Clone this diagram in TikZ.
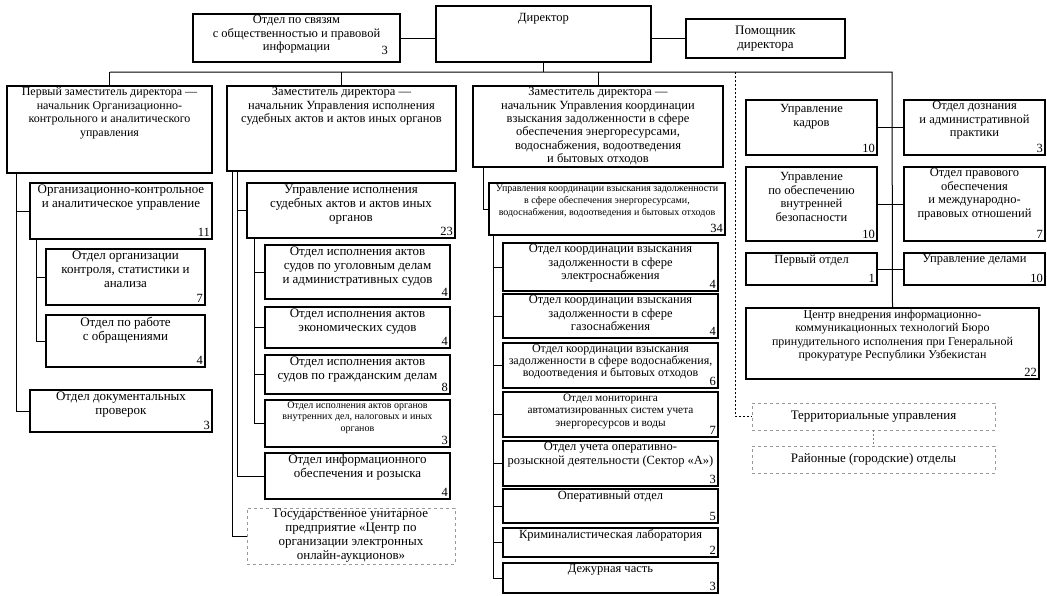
\documentclass[tikz,border=0pt]{standalone}
\usepackage{fontspec}
\setmainfont{Liberation Serif}
\newcommand{\boxfont}{\fontsize{12.5}{13.5}\selectfont}
\newcommand{\bigboxfont}{\fontsize{13}{14}\selectfont}
\newcommand{\deputyfont}{\fontsize{12.5}{13.3}\selectfont}
\newcommand{\smallboxfont}{\fontsize{10}{11.5}\selectfont}
\tikzset{
  unit/.style={draw, line width=1.1pt, anchor=north west, inner sep=0pt, outer sep=0pt},
  extunit/.style={draw=gray!80, dashed, line width=0.9pt, anchor=north west, inner sep=1pt, outer sep=0pt, align=center},
  ttltxt/.style={anchor=north, align=center, inner sep=1.5pt},
  cnttxt/.style={anchor=south east, inner sep=2pt},
  ttl/.style={label={[ttltxt]north:{#1}}},
  ttlf/.style 2 args={label={[ttltxt, font=#1]north:{#2}}},
  cnt/.style={label={[cnttxt]south east:#1}},
  link/.style={line width=1pt},
  dotlink/.style={line width=0.9pt, dash pattern=on 2pt off 2pt}
}
\begin{document}
\begin{tikzpicture}[x=1pt, y=-1pt, every node/.style={font=\boxfont}]
  \useasboundingbox (0,0) rectangle (1047,595);

  % Top level
  \node[unit, minimum width=207, minimum height=48, ttlf={\deputyfont}{Отдел по связям\\с общественностью и правовой\\информации}, label={[cnttxt, xshift=-10pt, yshift=5pt]south east:3}] (otdsv) at (193,14) {};
  \node[unit, minimum width=215, minimum height=56, label={[ttltxt, font=\deputyfont, yshift=-6pt]north:Директор}] (dir) at (436,6) {};
  \node[unit, minimum width=159, minimum height=39, align=center, font=\bigboxfont] (pom) at (686,19) {Помощник\\директора};
  \draw[link] (otdsv.east) -- (otdsv.east -| dir.west);
  \draw[link] (pom.west) -- (pom.west -| dir.east);

  % Bus under the director
  \coordinate (busL) at (110,72);
  \coordinate (busR) at (892,72);
  \coordinate (dotT) at (735,72);
  \draw[link] (dir.south) -- (dir.south |- busL);

  % Deputies
  \node[unit, minimum width=205, minimum height=87, ttlf={\fontsize{12}{13.5}\selectfont}{Первый заместитель директора —\\начальник Организационно-\\контрольного и аналитического\\управления}] (zam1) at (7,86) {};
  \node[unit, minimum width=229, minimum height=85, ttlf={\deputyfont}{Заместитель директора —\\начальник Управления исполнения\\судебных актов и актов иных органов}] (zam2) at (227,86) {};
  \node[unit, minimum width=250, minimum height=81, ttlf={\deputyfont}{Заместитель директора —\\начальник Управления координации\\взыскания задолженности в сфере\\обеспечения энергоресурсами,\\водоснабжения, водоотведения\\и бытовых отходов}] (zam3) at (473,86) {};
  \foreach \n in {zam1,zam2,zam3}
    \draw[link] (\n.north) -- (\n.north |- busL);

  % First deputy branch
  \node[unit, minimum width=182, minimum height=56, ttlf={\bigboxfont}{Организационно-контрольное\\и аналитическое управление}, cnt=11] (okiau) at (30,183) {};
  \node[unit, minimum width=159, minimum height=56, ttlf={\bigboxfont}{Отдел организации\\контроля, статистики и\\анализа}, cnt=7] (otdkon) at (46,249) {};
  \node[unit, minimum width=159, minimum height=52, ttlf={\bigboxfont}{Отдел по работе\\с обращениями}, cnt=4] (otdobr) at (46,315) {};
  \node[unit, minimum width=182, minimum height=42, ttlf={\bigboxfont}{Отдел документальных\\проверок}, cnt=3] (otddok) at (30,390) {};
  \coordinate (tr1) at ([xshift=9pt]zam1.south west);
  \coordinate (tr2) at ([xshift=6pt]okiau.south west);
  \draw[link] (tr1) |- (otddok.west);
  \draw[link] (okiau.west) -- (okiau.west -| tr1);
  \draw[link] (tr2) |- (otdobr.west);
  \draw[link] (otdkon.west) -- (otdkon.west -| tr2);

  % Second deputy branch
  \node[unit, minimum width=208, minimum height=55, ttlf={\bigboxfont}{Управление исполнения\\судебных актов и актов иных\\органов}, cnt=23] (upris) at (247,183) {};
  \node[unit, minimum width=185, minimum height=54, ttlf={\bigboxfont}{Отдел исполнения актов\\судов по уголовным делам\\и административных судов}, cnt=4] (ugol) at (265,245) {};
  \node[unit, minimum width=185, minimum height=41, ttlf={\bigboxfont}{Отдел исполнения актов\\экономических судов}, cnt=4] (econ) at (265,307) {};
  \node[unit, minimum width=185, minimum height=39, ttlf={\bigboxfont}{Отдел исполнения актов\\судов по гражданским делам}, cnt=8] (grazh) at (265,355) {};
  \node[unit, minimum width=185, minimum height=47, ttlf={\smallboxfont}{Отдел исполнения актов органов\\внутренних дел, налоговых и иных\\органов}, cnt=3] (organ) at (265,400) {};
  \node[unit, minimum width=185, minimum height=46, ttlf={\bigboxfont}{Отдел информационного\\обеспечения и розыска}, cnt=4] (inform) at (265,453) {};
  \node[extunit, minimum width=208, minimum height=56, font=\bigboxfont] (gup) at (247,508) {Государственное унитарное\\предприятие «Центр по\\организации электронных\\онлайн-аукционов»};
  \coordinate (tr3) at ([xshift=5pt]zam2.south west);
  \coordinate (tr4) at ([xshift=10pt]zam2.south west);
  \coordinate (tr5) at ([xshift=7pt]upris.south west);
  \draw[link] (tr3) |- (gup.west);
  \draw[link] (tr4) |- (inform.west);
  \draw[link] (upris.west) -- (upris.west -| tr4);
  \draw[link] (tr5) |- (organ.west);
  \foreach \n in {ugol,econ,grazh}
    \draw[link] (\n.west) -- (\n.west -| tr5);

  % Third deputy branch
  \node[unit, minimum width=236, minimum height=52, ttlf={\fontsize{10}{12}\selectfont}{Управления координации взыскания задолженности\\в сфере обеспечения энергоресурсами,\\водоснабжения, водоотведения и бытовых отходов}, cnt=34] (upkoord) at (489,183) {};
  \node[unit, minimum width=215, minimum height=48, ttl={Отдел координации взыскания\\задолженности в сфере\\электроснабжения}, cnt=4] (elec) at (503,243) {};
  \node[unit, minimum width=215, minimum height=44, ttl={Отдел координации взыскания\\задолженности в сфере\\газоснабжения}, cnt=4] (gaz) at (503,294) {};
  \node[unit, minimum width=215, minimum height=45, ttlf={\fontsize{12}{11}\selectfont}{Отдел координации взыскания\\задолженности в сфере водоснабжения,\\водоотведения и бытовых отходов}, cnt=6] (vod) at (503,343) {};
  \node[unit, minimum width=215, minimum height=45, ttlf={\fontsize{11.3}{12.5}\selectfont}{Отдел мониторинга\\автоматизированных систем учета\\энергоресурсов и воды}, cnt=7] (monit) at (503,392) {};
  \node[unit, minimum width=215, minimum height=45, ttl={Отдел учета оперативно-\\розыскной деятельности (Сектор «А»)}, cnt=3] (ord) at (503,441) {};
  \node[unit, minimum width=215, minimum height=34, ttl={Оперативный отдел}, cnt=5] (oper) at (503,489) {};
  \node[unit, minimum width=215, minimum height=29, ttl={Криминалистическая лаборатория}, cnt=2] (krim) at (503,528) {};
  \node[unit, minimum width=215, minimum height=30, ttl={Дежурная часть}, cnt=3] (dezh) at (503,563) {};
  \coordinate (tr6) at ([xshift=10pt]zam3.south west);
  \coordinate (tr7) at ([xshift=4pt]upkoord.south west);
  \draw[link] (tr6) |- (upkoord.west);
  \draw[link] (tr7) |- (dezh.west);
  \foreach \n in {elec,gaz,vod,monit,ord,oper,krim}
    \draw[link] (\n.west) -- (\n.west -| tr7);

  % Units under the director
  \node[unit, minimum width=131, minimum height=55, label={[ttltxt, yshift=-3pt]north:{Управление\\кадров}}, cnt=10] (kadr) at (746,100) {};
  \node[unit, minimum width=141, minimum height=55, ttl={Отдел дознания\\и административной\\практики}, cnt=3] (dozn) at (904,100) {};
  \node[unit, minimum width=131, minimum height=74, label={[ttltxt, yshift=-4pt]north:{Управление\\по обеспечению\\внутренней\\безопасности}}, cnt=10] (bez) at (746,167) {};
  \node[unit, minimum width=141, minimum height=74, ttl={Отдел правового\\обеспечения\\и международно-\\правовых отношений}, cnt=7] (prav) at (904,167) {};
  \node[unit, minimum width=131, minimum height=32, ttl={Первый отдел}, cnt=1] (perv) at (746,253) {};
  \node[unit, minimum width=141, minimum height=32, ttl={Управление делами}, cnt=10] (del) at (904,253) {};
  \node[unit, minimum width=293, minimum height=71, ttlf={\fontsize{12}{13.5}\selectfont}{Центр внедрения информационно-\\коммуникационных технологий Бюро\\принудительного исполнения при Генеральной\\прокуратуре Республики Узбекистан}, cnt=22] (cit) at (746,308) {};
  \draw[link] (busL) -- (busR) -- (cit.north);
  \draw[link] (kadr.east) -- (dozn.west);
  \draw[link] (bez.east) -- (prav.west);
  \draw[link] (perv.east) -- (del.west);

  % Territorial bodies
  \node[extunit, minimum width=243, minimum height=27, font=\bigboxfont] (terr) at (752,403) {Территориальные управления};
  \node[extunit, minimum width=243, minimum height=27, font=\bigboxfont] (rai) at (752,446) {Районные (городские) отделы};
  \draw[dotlink] (dotT) |- (terr.west);
  \draw[dotlink, gray] (terr.south) -- (rai.north);
\end{tikzpicture}
\end{document}
